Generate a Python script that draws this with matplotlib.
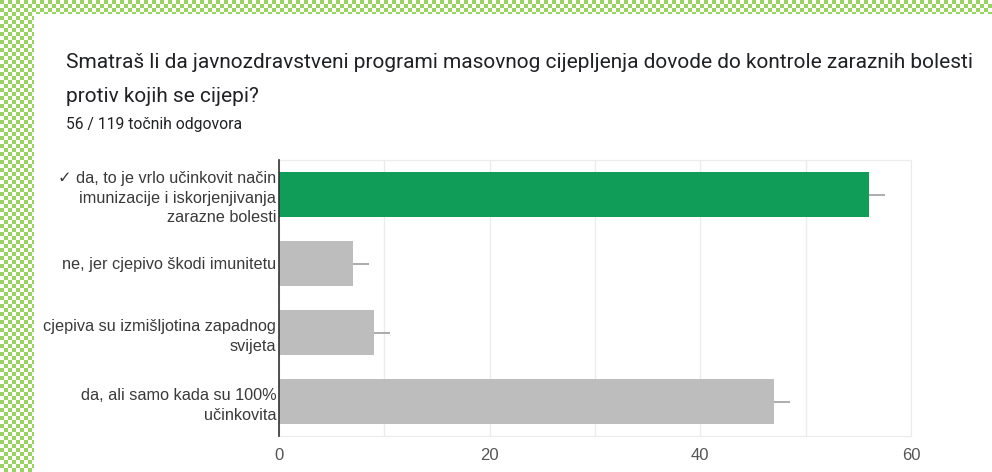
import numpy as np
import matplotlib
matplotlib.use("Agg")
import matplotlib.pyplot as plt

# answer options and counts
answers = [
    "\u2713 da, to je vrlo učinkovit način\nimunizacije i iskorjenjivanja\nzarazne bolesti",
    "ne, jer cjepivo škodi imunitetu",
    "cjepiva su izmišljotina zapadnog\nsvijeta",
    "da, ali samo kada su 100%\nučinkovita",
]
counts = [56, 7, 9, 47]
errors = [1.5, 1.5, 1.5, 1.5]
is_correct = [True, False, False, False]
x_ticks = [0, 20, 40, 60]

title_lines = [
    "Smatraš li da javnozdravstveni programi masovnog cijepljenja dovode do kontrole zaraznih bolesti",
    "protiv kojih se cijepi?",
]
subtitle = "56 / 119 točnih odgovora"

fig = plt.figure(figsize=(9.92, 4.72), dpi=100)

# checkered green border (left and top)
bg = fig.add_axes([0, 0, 1, 1])
h, w = 472, 992
yy, xx = np.mgrid[0:h, 0:w]
check = ((xx // 4 + yy // 4) % 2 == 0)
img = np.ones((h, w, 3))
green = np.array([0x9a, 0xd4, 0x60]) / 255
img[check] = green
img[(xx >= 34) & (yy >= 14)] = 1.0
bg.imshow(img, aspect="auto", interpolation="nearest")
bg.axis("off")

for i, line in enumerate(title_lines):
    fig.text(66 / w, 1 - (62 + 35 * i) / h, line, fontsize=15.0,
             family=["Roboto", "DejaVu Sans"], color="#202124", va="center", ha="left")
fig.text(66 / w, 1 - 124 / h, subtitle, fontsize=11.3, family=["Roboto", "DejaVu Sans"],
         color="#202124", va="center", ha="left")

ax = fig.add_axes([279 / w, 1 - 436 / h, 632 / w, 276 / h])
ypos = np.arange(len(answers))
colors = ["#0f9d58" if c else "#bdbdbd" for c in is_correct]
ax.errorbar(counts, ypos, xerr=errors, fmt="none", ecolor="#9e9e9e", elinewidth=1.2,
            capsize=0, zorder=2)
ax.barh(ypos, counts, height=0.64, color=colors, zorder=3)

ax.set_xlim(0, 60)
ax.set_ylim(3.5, -0.5)
ax.set_xticks(x_ticks)
ax.set_xticks(range(0, 61, 10), minor=True)
ax.grid(True, axis="x", which="both", color="#ececec", linewidth=1, zorder=0)
ax.set_axisbelow(True)
for s in ["top", "right", "bottom"]:
    ax.spines[s].set_color("#ececec")
ax.spines["left"].set_color("#333333")
ax.spines["left"].set_linewidth(1.2)
ax.spines["left"].set_zorder(5)
ax.tick_params(axis="both", which="both", length=0)
ax.tick_params(axis="x", pad=9, labelsize=12, labelcolor="#555555")
ax.set_xticklabels([str(t) for t in x_ticks], family=["Liberation Sans", "DejaVu Sans"])
ax.set_yticks(ypos)
ax.set_yticklabels(answers, fontsize=11.7, color="#3a3a3a", linespacing=1.38,
                   family=["Liberation Sans", "DejaVu Sans"])
ax.tick_params(axis="y", pad=2)

fig.savefig("out.png", dpi=100)
